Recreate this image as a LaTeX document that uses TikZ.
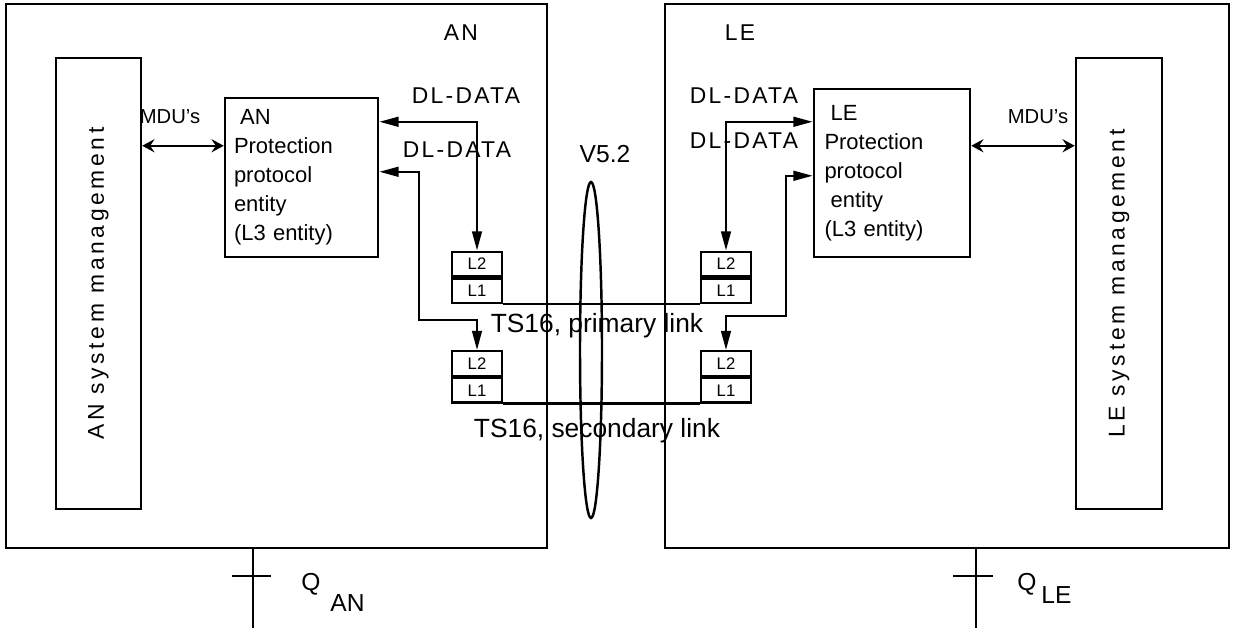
\documentclass[tikz,border=0pt]{standalone}
\usepackage{fontspec}
\setmainfont{Liberation Sans}
\newfontfamily\spaced[LetterSpace=10]{Liberation Sans}
\newfontfamily\widespaced[LetterSpace=16]{Liberation Sans}
\usepackage{graphicx}
\usetikzlibrary{arrows.meta}

\begin{document}
\begin{tikzpicture}[x=0.2mm, y=-0.2mm,
    every node/.style={inner sep=0pt, align=center},
    side/.style={draw, line width=1.4pt},
    mgmt/.style={draw, line width=1.4pt, minimum width=17mm, minimum height=90.2mm, font=\fontsize{13}{15}\widespaced},
    entity/.style={draw, line width=1.4pt, align=left, text width=27mm, font=\fontsize{12.5}{16.5}\selectfont},
    layer/.style={draw, line width=1.3pt, minimum width=10mm, minimum height=4.9mm, font=\fontsize{9.5}{10}\selectfont},
    lbl/.style={anchor=base, font=\fontsize{13}{15}\spaced},
    tslbl/.style={anchor=base, font=\fontsize{15}{17}\selectfont},
    qlbl/.style={anchor=west, font=\fontsize{14}{16}\selectfont},
    mdulbl/.style={anchor=base, font=\fontsize{11.5}{13}\selectfont},
    dl/.style={{Triangle[length=11pt,width=5.5pt]}-{Triangle[length=11pt,width=5.5pt]}, line width=1.4pt},
    mdu/.style={{Stealth[length=7pt,width=7.5pt,inset=2.5pt]}-{Stealth[length=7pt,width=7.5pt,inset=2.5pt]}, line width=1.4pt},
    wire/.style={line width=1.4pt}
  ]
  \useasboundingbox (0,0) rectangle (1234,630);

  \node[side, minimum width=108.2mm, minimum height=108.8mm] (anside) at (276.5,276) {};
  \node[side, minimum width=112.8mm, minimum height=108.8mm] (leside) at (947,276) {};

  \node[mgmt] (anmgmt) at (98.5,283.5) {\rotatebox{90}{AN system management}};
  \node[mgmt, minimum width=17.2mm] (lemgmt) at (1119,283.5) {\rotatebox{90}{LE system management}};

  \node[entity, minimum width=30.6mm, minimum height=31.8mm] (anppe) at (301.5,177.5)
    {\hspace*{3.5pt}AN\\Protection\\protocol\\entity\\(L3 entity)};
  \node[entity, minimum width=31.2mm, minimum height=33.6mm] (leppe) at (892,173)
    {\hspace*{3.5pt}LE\\Protection\\protocol\\\hspace*{3.5pt}entity\\(L3 entity)};

  % layer 2 / layer 1 stacks
  \node[layer] (anl2a) at (477,264) {L2};
  \node[layer, anchor=north] (anl1a) at (anl2a.south) {L1};
  \node[layer] (anl2b) at (477,363.5) {L2};
  \node[layer, anchor=north] (anl1b) at (anl2b.south) {L1};
  \node[layer] (lel2a) at (726,264) {L2};
  \node[layer, anchor=north] (lel1a) at (lel2a.south) {L1};
  \node[layer] (lel2b) at (726,363.5) {L2};
  \node[layer, anchor=north] (lel1b) at (lel2b.south) {L1};

  \draw[wire] (anl1a.south east) -- (lel1a.south west);
  \draw[wire] (anl1b.south east) -- (lel1b.south west);
  \draw[wire] (591,350) ellipse [x radius=2.2mm, y radius=33.6mm];

  \draw[dl] (anl2a.north) |- ([yshift=-5mm]anppe.north east);
  \draw[dl] ([yshift=-15mm]anppe.north east) -| (419,320) -| (anl2b.north);
  \draw[dl] (lel2a.north) |- ([yshift=-6.8mm]leppe.north west);
  \draw[dl] ([yshift=-17.6mm]leppe.north west) -| (786,316) -| (lel2b.north);

  \draw[mdu] ([yshift=-17.8mm]anmgmt.north east) coordinate (mdua) -- (mdua -| anppe.west);
  \draw[mdu] ([yshift=-17.8mm]lemgmt.north west) coordinate (mdub) -- (mdub -| leppe.east);

  \node[lbl] (antitle) at (461,40) {AN};
  \node[lbl] (letitle) at (740,40) {LE};
  \node[lbl] (dlan1) at (466,103) {DL-DATA};
  \node[lbl] (dlan2) at (457,157) {DL-DATA};
  \node[lbl] (dlle1) at (744,103) {DL-DATA};
  \node[lbl] (dlle2) at (744,148) {DL-DATA};
  \node[tslbl, font=\fontsize{14}{16}\selectfont] (v52) at (605,162) {V5.2};
  \node[tslbl] (prim) at (597,332) {TS16, primary link};
  \node[tslbl] (sec) at (597,437) {TS16, secondary link};
  \node[mdulbl] (mduan) at (170,123) {MDU's};
  \node[mdulbl] (mdule) at (1038,123) {MDU's};

  % Q interfaces
  \coordinate (qanfoot) at (253,628);
  \coordinate (qlefoot) at (976,628);
  \draw[wire] (anside.south -| qanfoot) -- (qanfoot);
  \draw[wire] (232,576) -- (271,576);
  \draw[wire] (leside.south -| qlefoot) -- (qlefoot);
  \draw[wire] (953,576) -- (993,576);
  \node[qlbl] (qan) at (301,584) {Q};
  \node[qlbl] (qansub) at (330,603) {AN};
  \node[qlbl] (qle) at (1017,584) {Q};
  \node[qlbl] (qlesub) at (1041,595) {LE};
\end{tikzpicture}
\end{document}
